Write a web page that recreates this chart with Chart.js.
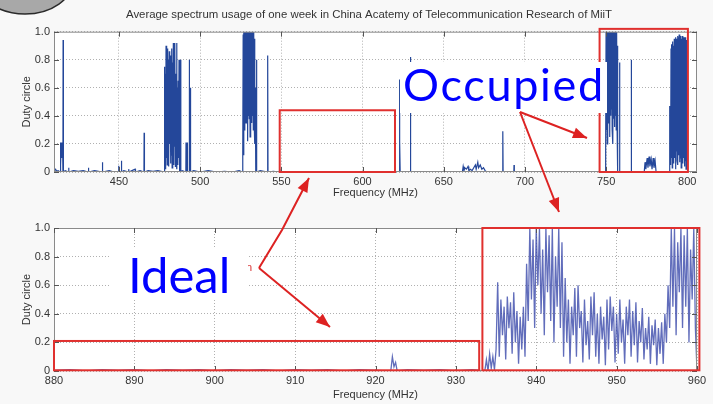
<!DOCTYPE html>
<html>
<head>
<meta charset="utf-8">
<script src="https://cdn.jsdelivr.net/npm/chart.js@4.4.0/dist/chart.umd.min.js"></script>
<style>
  html, body { margin: 0; padding: 0; }
  body { width: 713px; height: 404px; overflow: hidden; background: #f8f8f8; position: relative; }
  #topChart { position: absolute; left: 0; top: 0; }
  #bottomChart { position: absolute; left: 0; top: 200px; }
  #marks { position: absolute; left: 0; top: 0; pointer-events: none; z-index: 4; }
  .big { position: absolute; background: #fff; color: #0000ff; font-family: Lato, sans-serif; line-height: 1; white-space: nowrap; z-index: 3; box-sizing: border-box; }
  .stray { position: absolute; color: #d83030; font: 11px "Liberation Sans", Arial, sans-serif; z-index: 2; }
</style>
</head>
<body>
<canvas id="topChart" width="738" height="200"></canvas>
<canvas id="bottomChart" width="713" height="204"></canvas>
<div class="stray" style="left:246px; top:261px;">n</div>
<div class="big" style="left:400px; top:62px; width:207px; height:51px; padding-left:3px; font-size:45px; letter-spacing:1.7px;">Occupied</div>
<div class="big" style="left:110px; top:249px; width:138px; height:51px; padding-left:18px; padding-top:1px; font-size:49px;">Ideal</div>
<canvas id="marks" width="713" height="404"></canvas>

<script>
// ---- data ----
const titleText = "Average spectrum usage of one week in China Acatemy of Telecommunication Research of MiiT";
const freqTicksTop = [450, 500, 550, 600, 650, 700, 750, 800];
const freqTicksBottom = [880, 890, 900, 910, 920, 930, 940, 950, 960];
const dutyTicks = [0, 0.2, 0.4, 0.6, 0.8, 1.0];

// 410 - 806 MHz sweep
const topFreq = [
  410, 411, 411.5, 412.5, 413.8,
  413.9, 414.2, 414.5, 414.9, 415.3, 415.5, 415.6, 415.8,
  416.9, 418.9, 419, 419.2, 422, 425, 428, 431, 431.2, 431.4, 435, 439.7, 439.8, 440, 444, 447,
  449.7, 449.8, 450, 451.4, 451.5, 451.7, 453, 455.9, 456, 456.2, 458, 460, 460.2, 463,
  465.4, 465.5, 465.7, 468, 471, 474, 477.8,
  478, 478.25, 478.5, 478.75, 479, 479.25, 479.5, 479.75, 480, 480.25, 480.5, 480.75,
  481, 481.25, 481.5, 481.75, 482, 482.25, 482.5, 482.75, 483, 483.25, 483.5, 483.75,
  484, 484.25, 484.5, 484.75, 485, 485.25, 485.5, 485.75, 486, 486.25, 486.5, 486.75,
  487, 487.25, 487.5, 487.75, 488, 488.2,
  489, 491.2, 491.3, 491.5, 491.9, 492, 492.2, 493.2, 493.3, 493.5, 493.9, 494, 494.2,
  496, 500, 505, 510, 515, 520, 524, 526.1,
  526.25, 526.5, 526.75, 527, 527.25, 527.5, 527.75, 528, 528.25, 528.5, 528.75,
  529, 529.25, 529.5, 529.75, 530, 530.25, 530.5, 530.75, 531, 531.25, 531.5, 531.75,
  532, 532.25, 532.5, 532.75, 533, 533.25, 533.5, 533.75, 534, 534.25,
  534.6, 534.7, 534.9, 537, 541.5, 541.6, 541.8, 545, 548.9, 549, 549.2, 560, 580, 600,
  622.6, 622.7, 622.9, 623, 623.2, 629.4, 629.5, 629.7, 645, 661.5,
  662, 662.5, 663, 664, 665, 665.5, 666.5, 667.5, 668.5, 669.5, 670, 671, 671.5, 672.5, 673.5, 674.5, 675.5, 676.5,
  686.2, 686.3, 686.5, 686.6, 693.2, 693.3, 693.5, 720, 749.6,
  749.75, 750, 750.25, 750.5, 750.75, 751, 751.25, 751.5, 751.75, 752, 752.25, 752.5, 752.75,
  753, 753.25, 753.5, 753.75, 754, 754.25, 754.5, 754.75, 755, 755.25, 755.5, 755.75,
  756, 756.25, 756.5, 756.75, 757, 757.25,
  758.2, 758.3, 758.5, 765.4, 765.5, 765.7, 773.5,
  774, 774.5, 775.3, 775.8, 776.5, 777, 777.8, 778.3, 779, 779.5, 780.2, 780.8,
  789.1, 789.2, 789.5,
  789.75, 790, 790.25, 790.5, 790.75, 791, 791.25, 791.5, 791.75, 792, 792.25, 792.5, 792.75,
  793, 793.25, 793.5, 793.75, 794, 794.25, 794.5, 794.75, 795, 795.25, 795.5, 795.75,
  796, 796.25, 796.5, 796.75, 797, 797.25, 797.5, 797.75, 798, 798.25, 798.5, 798.75,
  799, 799.25, 799.5, 799.75, 800, 800.25,
  806
];
const topDuty = [
  0.01, 0.02, 0.005, 0.01, 0.0,
  0.21, 0.05, 0.21, 0.1, 0.21, 0.0, 0.94, 0.0,
  0.01, 0.0, 0.03, 0.0, 0.01, 0.005, 0.01, 0.0, 0.03, 0.0, 0.01, 0.0, 0.07, 0.0, 0.01, 0.0,
  0.0, 0.045, 0.0, 0.0, 0.08, 0.0, 0.01, 0.0, 0.02, 0.0, 0.01, 0.02, 0.0, 0.01,
  0.0, 0.28, 0.0, 0.01, 0.005, 0.01, 0.0,
  0.75, 0.05, 0.7, 0.02, 0.9, 0.1, 0.85, 0.05, 0.88, 0.15, 0.8, 0.04,
  0.86, 0.2, 0.7, 0.06, 0.83, 0.12, 0.88, 0.03, 0.78, 0.1, 0.92, 0.05,
  0.85, 0.18, 0.92, 0.04, 0.7, 0.08, 0.92, 0.02, 0.6, 0.05, 0.65, 0.1,
  0.8, 0.0, 0.5, 0.03, 0.8, 0.0,
  0.01, 0.0, 0.21, 0.0, 0.0, 0.21, 0.0, 0.0, 0.8, 0.0, 0.0, 0.6, 0.0,
  0.01, 0.0, 0.01, 0.0, 0.005, 0.0, 0.01, 0.0,
  0.15, 0.98, 0.12, 1.0, 0.3, 1.0, 0.4, 1.0, 0.35, 1.0, 0.45,
  1.0, 0.22, 1.0, 0.4, 1.0, 0.38, 1.0, 0.25, 1.0, 0.42, 1.0, 0.35,
  1.0, 0.4, 1.0, 0.3, 1.0, 0.36, 0.95, 0.2, 0.6, 0.0,
  0.0, 0.8, 0.0, 0.01, 0.0, 0.83, 0.0, 0.005, 0.0, 0.02, 0.0, 0.0, 0.0, 0.0,
  0.0, 0.22, 0.66, 0.22, 0.0, 0.0, 0.82, 0.0, 0.0, 0.0,
  0.04, 0.01, 0.03, 0.02, 0.04, 0.01, 0.02, 0.01, 0.03, 0.05, 0.02, 0.07, 0.03, 0.05, 0.02, 0.03, 0.01, 0.0,
  0.0, 0.05, 0.29, 0.0, 0.0, 0.05, 0.0, 0.0, 0.0,
  0.2, 1.0, 0.3, 1.0, 0.2, 1.0, 0.35, 1.0, 0.42, 1.0, 0.25, 1.0, 0.4,
  1.0, 0.45, 1.0, 0.3, 1.0, 0.2, 1.0, 0.38, 1.0, 0.32, 1.0, 0.4,
  1.0, 0.3, 1.0, 0.35, 0.9, 0.0,
  0.0, 0.78, 0.0, 0.0, 0.8, 0.0, 0.0,
  0.07, 0.02, 0.1, 0.03, 0.11, 0.04, 0.09, 0.02, 0.1, 0.03, 0.08, 0.0,
  0.0, 0.47, 0.3,
  0.05, 0.88, 0.1, 0.91, 0.03, 0.93, 0.12, 0.9, 0.06, 0.95, 0.1, 0.94, 0.02,
  0.96, 0.15, 0.95, 0.08, 0.97, 0.05, 0.96, 0.12, 0.98, 0.07, 0.96, 0.1,
  0.97, 0.03, 0.95, 0.11, 0.97, 0.06, 0.94, 0.1, 0.96, 0.04, 0.95, 0.08,
  0.96, 0.02, 0.94, 0.05, 0.6, 0.0,
  0.0
];

// 880 - 960 MHz sweep
const bottomFreq = [
  880, 882, 884, 886, 888, 890, 892, 894, 896, 898, 900, 902, 904, 906, 908, 910, 912, 914, 916, 918, 920,
  921.9, 922.1, 922.3, 922.5, 922.7, 924, 926, 928, 930, 932, 933.6,
  933.8, 934.0, 934.2, 934.4, 934.6, 934.8, 935.0, 935.2, 935.4, 935.6,
  935.8, 936.0, 936.2, 936.4, 936.6, 936.8, 937.0, 937.2, 937.4, 937.6,
  937.8, 938.0, 938.2, 938.4, 938.6, 938.8, 939.0, 939.2, 939.4, 939.6,
  939.8, 940.0, 940.2, 940.4, 940.6, 940.8, 941.0, 941.2, 941.4, 941.6,
  941.8, 942.0, 942.2, 942.4, 942.6, 942.8, 943.0, 943.2, 943.4, 943.6,
  943.8, 944.0, 944.2, 944.4, 944.6, 944.8, 945.0, 945.2, 945.4, 945.6,
  945.8, 946.0, 946.2, 946.4, 946.6, 946.8, 947.0, 947.2, 947.4, 947.6,
  947.8, 948.0, 948.2, 948.4, 948.6, 948.8, 949.0, 949.2, 949.4, 949.6,
  949.8, 950.0, 950.2, 950.4, 950.6, 950.8, 951.0, 951.2, 951.4, 951.6,
  951.8, 952.0, 952.2, 952.4, 952.6, 952.8, 953.0, 953.2, 953.4, 953.6,
  953.8, 954.0, 954.2, 954.4, 954.6, 954.8, 955.0, 955.2, 955.4, 955.6,
  955.8, 956.0, 956.2, 956.4, 956.6, 956.8, 957.0, 957.2, 957.4, 957.6,
  957.8, 958.0, 958.2, 958.4, 958.6, 958.8, 959.0, 959.2, 959.4, 959.6,
  959.8, 960.0
];
const bottomDuty = [
  0.005, 0.01, 0.0, 0.01, 0.005, 0.01, 0.0, 0.01, 0.005, 0.01, 0.0, 0.01, 0.005, 0.01, 0.0, 0.01, 0.005, 0.01, 0.0, 0.01, 0.005,
  0.0, 0.1, 0.03, 0.06, 0.0, 0.01, 0.005, 0.01, 0.0, 0.01, 0.0,
  0.08, 0.0, 0.12, 0.02, 0.1, 0.01, 0.15, 0.62, 0.1, 0.5,
  0.25, 0.45, 0.08, 0.52, 0.3, 0.48, 0.12, 0.55, 0.2, 0.42,
  0.05, 0.38, 0.15, 0.45, 0.1, 0.75, 0.35, 1.0, 0.5, 0.92,
  0.3, 1.0, 0.6, 1.0, 0.4, 0.85, 0.25, 1.0, 0.55, 0.95,
  0.35, 1.0, 0.2, 0.8, 0.45, 1.0, 0.3, 0.9, 0.1, 0.65,
  0.2, 0.5, 0.05, 0.45, 0.25, 0.58, 0.1, 0.6, 0.3, 0.42,
  0.06, 0.5, 0.18, 0.35, 0.08, 0.52, 0.25, 0.55, 0.1, 0.4,
  0.05, 0.45, 0.22, 0.38, 0.04, 0.5, 0.15, 0.52, 0.28, 0.45,
  0.06, 0.4, 0.12, 0.5, 0.2, 0.36, 0.05, 0.45, 0.25, 0.5,
  0.1, 0.42, 0.18, 0.48, 0.06, 0.35, 0.2, 0.44, 0.08, 0.3,
  0.15, 0.38, 0.05, 0.32, 0.18, 0.36, 0.04, 0.3, 0.12, 0.34,
  0.05, 0.4, 0.2, 0.6, 0.3, 1.0, 0.45, 1.0, 0.25, 0.9,
  0.55, 1.0, 0.3, 0.95, 0.45, 1.0, 0.2, 0.85, 0.5, 1.0,
  0.3, 0.0
];

// red highlight boxes: [fromMHz, toMHz, fromDuty, toDuty]
const topBoxes = [[549, 620, 0, 0.44], [746, 800.4, 0, 1.02]];
const bottomBoxes = [[880, 932.9, 0.005, 0.21], [933.3, 960.3, 0.005, 1.0]];

// ---- drawing ----
const axisFont = { family: "'Liberation Sans', Arial, sans-serif", size: 11 };

// white plot area, box with inward ticks, red boxes
const frame = {
  id: 'frame',
  beforeDraw(chart) {
    const { ctx, chartArea: a } = chart;
    ctx.save();
    ctx.fillStyle = '#ffffff';
    ctx.fillRect(a.left, a.top, a.right - a.left, a.bottom - a.top);
    ctx.restore();
  },
  afterDraw(chart, args, opts) {
    const { ctx, chartArea: a, scales } = chart;
    ctx.save();
    ctx.strokeStyle = '#8a8a8a';
    ctx.lineWidth = 1;
    ctx.strokeRect(a.left + 0.5, a.top + 0.5, a.right - a.left - 1, a.bottom - a.top - 1);
    ctx.beginPath();
    scales.x.ticks.forEach(t => {
      const px = Math.round(scales.x.getPixelForValue(t.value)) + 0.5;
      ctx.moveTo(px, a.bottom); ctx.lineTo(px, a.bottom - 5);
      ctx.moveTo(px, a.top); ctx.lineTo(px, a.top + 5);
    });
    scales.y.ticks.forEach(t => {
      const py = Math.round(scales.y.getPixelForValue(t.value)) + 0.5;
      ctx.moveTo(a.left, py); ctx.lineTo(a.left + 5, py);
      ctx.moveTo(a.right, py); ctx.lineTo(a.right - 5, py);
    });
    ctx.strokeStyle = '#555';
    ctx.stroke();

    ctx.strokeStyle = '#e0302e';
    ctx.lineWidth = 2;
    (opts.boxes || []).forEach(b => {
      const x1 = scales.x.getPixelForValue(b[0]);
      const x2 = scales.x.getPixelForValue(b[1]);
      const y1 = scales.y.getPixelForValue(b[2]);
      const y2 = scales.y.getPixelForValue(b[3]);
      ctx.strokeRect(x1, y2, x2 - x1, y1 - y2);
    });
    ctx.restore();
  }
};

function makeConfig(freq, duty, ticksX, minX, maxX, color, width, boxes, extra) {
  const scales = {
    x: {
      type: 'linear',
      min: minX,
      max: maxX,
      afterBuildTicks: axis => { axis.ticks = ticksX.map(v => ({ value: v })); },
      afterFit: axis => { axis.height = extra.xHeight; },
      ticks: { autoSkip: false, maxRotation: 0, padding: 3, color: '#333', font: axisFont },
      grid: { color: '#b0b0b0', drawTicks: false },
      border: { display: false, dash: [1, 2] },
      title: { display: true, text: 'Frequency (MHz)', color: '#333', font: axisFont, padding: { top: 0, bottom: extra.xTitlePad } }
    },
    y: {
      min: 0,
      max: 1,
      afterBuildTicks: axis => { axis.ticks = dutyTicks.map(v => ({ value: v })); },
      afterFit: axis => { axis.width = 54; },
      ticks: { padding: 4, color: '#333', font: axisFont, callback: v => v === 0 ? '0' : v.toFixed(1) },
      grid: { color: '#b0b0b0', drawTicks: false },
      border: { display: false, dash: [1, 2] },
      title: { display: true, text: 'Duty circle', color: '#333', font: axisFont, padding: { top: 20, bottom: 0 } }
    }
  };
  if (extra.rightGap) {
    // empty strip on the right so the full-width title centres like the original
    scales.yr = {
      position: 'right', min: 0, max: 1,
      afterFit: axis => { axis.width = extra.rightGap; },
      ticks: { display: false },
      grid: { display: false },
      border: { display: false }
    };
  }
  return {
    type: 'line',
    data: {
      datasets: [{
        data: freq.map((f, i) => ({ x: f, y: duty[i] })),
        borderColor: color,
        borderWidth: width,
        pointRadius: 0,
        tension: 0
      }]
    },
    options: {
      responsive: false,
      animation: false,
      events: [],
      layout: extra.layout,
      plugins: {
        legend: { display: false },
        tooltip: { enabled: false },
        title: extra.title,
        frame: { boxes: boxes }
      },
      scales: scales
    },
    plugins: [frame]
  };
}

new Chart(document.getElementById('topChart'), makeConfig(
  topFreq, topDuty, freqTicksTop, 410, 806, '#24479a', 1.2, topBoxes,
  {
    layout: { padding: 0 },
    title: { display: true, text: titleText, color: '#333', font: { family: "'Liberation Sans', Arial, sans-serif", size: 11.4, weight: 'normal' }, padding: { top: 8, bottom: 10 } },
    xHeight: 28,
    xTitlePad: 0,
    rightGap: 41
  }
));

new Chart(document.getElementById('bottomChart'), makeConfig(
  bottomFreq, bottomDuty, freqTicksBottom, 880, 960, 'rgba(58,72,170,0.8)', 1.3, bottomBoxes,
  {
    layout: { padding: { left: 0, right: 16, top: 28, bottom: 0 } },
    title: { display: false },
    xHeight: 33,
    xTitlePad: 2
  }
));

// callouts on top of everything
const m = document.getElementById('marks').getContext('2d');

// leftover speech-bubble corner
m.beginPath();
m.ellipse(25, -20, 48, 34, 0, 0, Math.PI * 2);
m.fillStyle = '#a8a8a8';
m.fill();
m.lineWidth = 1.5;
m.strokeStyle = '#2a2a2a';
m.stroke();

function arrow(pts) {
  m.save();
  m.strokeStyle = '#dd2222';
  m.fillStyle = '#dd2222';
  m.lineWidth = 2;
  m.beginPath();
  m.moveTo(pts[0][0], pts[0][1]);
  for (let i = 1; i < pts.length; i++) m.lineTo(pts[i][0], pts[i][1]);
  const [tx, ty] = pts[pts.length - 1];
  const [sx, sy] = pts[pts.length - 2];
  const ang = Math.atan2(ty - sy, tx - sx);
  m.stroke();
  m.beginPath();
  m.moveTo(tx, ty);
  m.lineTo(tx - 14 * Math.cos(ang) + 5.5 * Math.sin(ang), ty - 14 * Math.sin(ang) - 5.5 * Math.cos(ang));
  m.lineTo(tx - 14 * Math.cos(ang) - 5.5 * Math.sin(ang), ty - 14 * Math.sin(ang) + 5.5 * Math.cos(ang));
  m.closePath();
  m.fill();
  m.restore();
}
arrow([[520, 112], [587, 138]]);
arrow([[520, 112], [559, 212]]);
arrow([[259, 268], [282, 230], [309, 178]]);
arrow([[259, 268], [330, 327]]);
</script>
</body>
</html>
